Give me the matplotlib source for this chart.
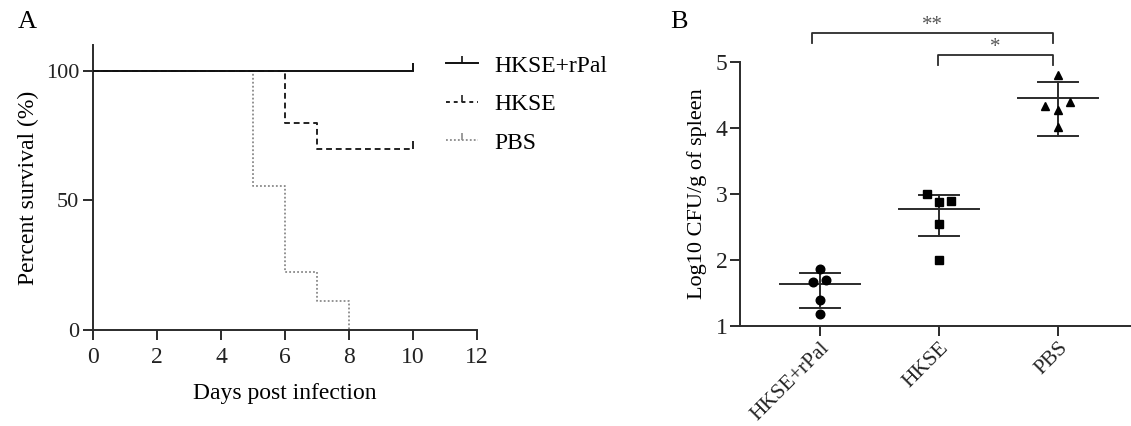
import numpy as np
import matplotlib
matplotlib.use('Agg')
import matplotlib.pyplot as plt
from matplotlib.lines import Line2D

plt.rcParams['font.family'] = ['Liberation Serif', 'DejaVu Serif']

# panel A: survival curves (days, percent)
rpal_days = [0, 10]
rpal_surv = [100, 100]
hkse_days = [0, 6, 7, 10]
hkse_surv = [100, 80, 70, 70]
pbs_days = [0, 5, 6, 7, 8]
pbs_surv = [100, 55.6, 22.2, 11.1, 0]

# panel B: log10 CFU per group
groups = ['HKSE+rPal', 'HKSE', 'PBS']
rpal_cfu = [1.87, 1.66, 1.70, 1.40, 1.18]
hkse_cfu = [3.00, 2.88, 2.90, 2.54, 2.00]
pbs_cfu = [4.80, 4.34, 4.28, 4.39, 4.01]
center = [1.63, 2.78, 4.46]
err_low = [1.27, 2.37, 3.88]
err_high = [1.81, 2.98, 4.69]
jitter = [[0, -0.06, 0.05, 0, 0], [-0.1, 0, 0.1, 0, 0], [0, -0.11, 0, 0.1, 0]]

dark = '#2b2b2b'
W, H = 1131, 426
fig = plt.figure(figsize=(W / 100, H / 100), dpi=100)

# ---- A ----
ax = fig.add_axes([93 / W, 1 - 330 / H, (477 - 93) / W, (330 - 45) / H])
ax.step(pbs_days, pbs_surv, where='post', color='#8a8a8a', lw=1.3,
        dashes=(1, 1.2), zorder=2)
ax.step(hkse_days, hkse_surv, where='post', color='#222222', lw=1.4,
        dashes=(3, 2), zorder=2.5)
ax.step(rpal_days, rpal_surv, where='post', color='#111111', lw=1.4, zorder=3)
ax.plot([rpal_days[-1]], [rpal_surv[-1]], marker=2, ms=6, color='#111111', mew=1.4, zorder=3)
ax.plot([hkse_days[-1]], [hkse_surv[-1]], marker=2, ms=6, color='#222222', mew=1.4, zorder=3)
ax.set_xlim(0, 12)
ax.set_ylim(0, 110)
ax.set_xticks(range(0, 13, 2))
ax.set_yticks([0, 50, 100])
ax.set_xlabel('Days post infection', fontsize=17, labelpad=11)
ax.set_ylabel('Percent survival (%)', fontsize=17, labelpad=5)
for s in ['top', 'right']:
    ax.spines[s].set_visible(False)
for s in ['left', 'bottom']:
    ax.spines[s].set_color(dark)
    ax.spines[s].set_linewidth(1.4)
ax.tick_params(colors=dark, width=1.4, length=7, labelsize=17, labelcolor='#222222', pad=5)
ax.tick_params(axis='y', labelsize=16, pad=3)

h1 = Line2D([], [], color='#111111', lw=1.4, marker=2, ms=5, mew=1.2)
h2 = Line2D([], [], color='#222222', lw=1.4, dashes=(2, 2), marker=2, ms=5, mew=1.2)
h3 = Line2D([], [], color='#8a8a8a', lw=1.3, dashes=(1, 1.2), marker=2, ms=5, mew=1.2)
leg = ax.legend([h1, h2, h3], groups, loc='upper left', numpoints=1,
                bbox_to_anchor=(446 / W, 1 - 55 / H), bbox_transform=fig.transFigure,
                frameon=False, fontsize=17, handlelength=1.35, handletextpad=0.7,
                labelspacing=0.72, borderpad=0, borderaxespad=0)
fig.text(18 / W, 1 - 22 / H, 'A', fontsize=19, va='center', ha='left')

# ---- B ----
bx = fig.add_axes([740 / W, 1 - 326 / H, (W - 740) / W, (326 - 62) / H])
markers = ['o', 's', '^']
msizes = [6.2, 5.6, 6.4]
for i, vals in enumerate([rpal_cfu, hkse_cfu, pbs_cfu]):
    xs = i + np.array(jitter[i])
    bx.plot(xs, vals, ls='none', marker=markers[i], ms=msizes[i], color='black', zorder=3)
    bx.plot([i - 0.335, i + 0.335], [center[i]] * 2, color=dark, lw=1.4)
    bx.plot([i - 0.17, i + 0.17], [err_high[i]] * 2, color=dark, lw=1.4)
    bx.plot([i - 0.17, i + 0.17], [err_low[i]] * 2, color=dark, lw=1.4)
    bx.plot([i, i], [err_low[i], err_high[i]], color=dark, lw=1.4)
bx.set_xlim(-80 / 119, 2 + (W - 1058) / 119)
bx.set_ylim(1, 5)
bx.set_yticks([1, 2, 3, 4, 5])
bx.set_xticks(range(3))
bx.set_xticklabels(groups, rotation=45, ha='right', rotation_mode='anchor')
bx.set_ylabel('Log10 CFU/g of spleen', fontsize=16, labelpad=6)
for s in ['top', 'right']:
    bx.spines[s].set_visible(False)
for s in ['left', 'bottom']:
    bx.spines[s].set_color(dark)
    bx.spines[s].set_linewidth(1.4)
bx.tick_params(colors=dark, width=1.4, length=7, labelsize=15.5, labelcolor='#222222')
bx.tick_params(axis='y', labelsize=17, pad=2)
bx.tick_params(axis='x', pad=2)


# significance brackets
def bracket(x0, x1, y, drop, label):
    bx.plot([x0, x0, x1, x1], [y - drop, y, y, y - drop], color=dark, lw=1.3,
            clip_on=False)
    bx.text((x0 + x1) / 2, y - 0.03, label, ha='center', va='bottom',
            fontsize=15, color='#555555')


bracket(-0.07, 1.96, 5.44, 0.15, '**')
bracket(0.99, 1.96, 5.11, 0.15, '*')
fig.text(670 / W, 1 - 22 / H, 'B', fontsize=19, va='center', ha='left')

fig.savefig('out.png', dpi=100)
